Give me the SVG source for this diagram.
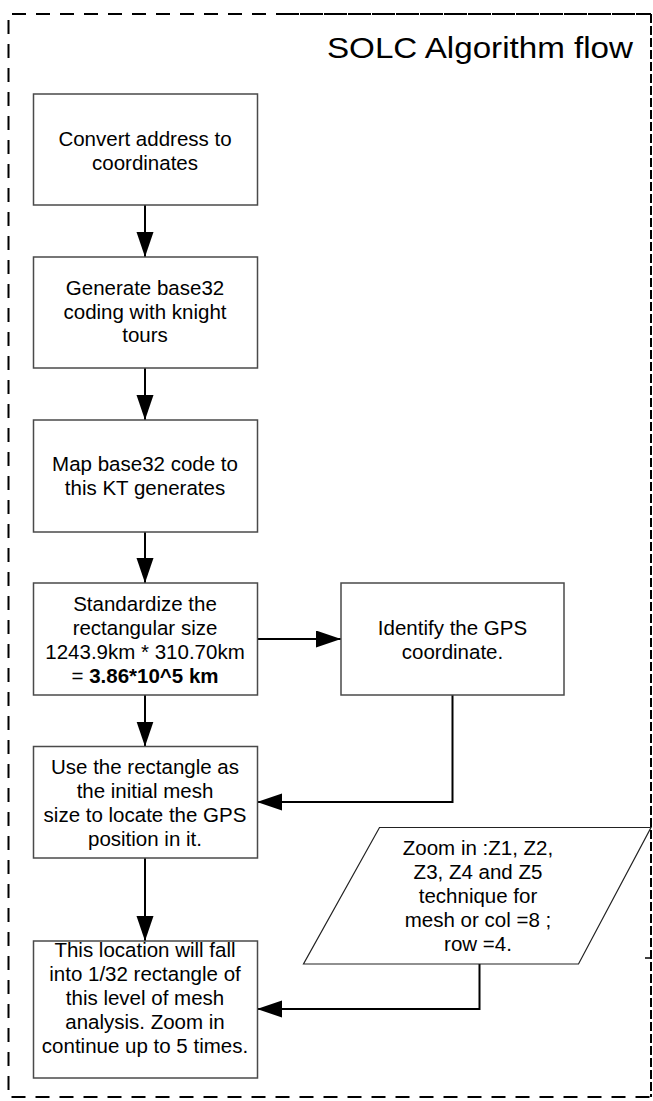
<svg xmlns="http://www.w3.org/2000/svg" width="653" height="1101" viewBox="0 0 653 1101">
  <style>
    .frame { fill: none; stroke: #000; stroke-width: 2; stroke-dasharray: 14 10; }
    .frame-dense { fill: none; stroke: #000; stroke-width: 2; stroke-dasharray: 9 3; }
    .box { fill: #fff; stroke: #4a4a4a; stroke-width: 1.5; }
    .io { fill: #fff; stroke: #222; stroke-width: 1.2; }
    .lbl { font-family: "Liberation Sans", Arial, sans-serif; font-size: 20.5px; fill: #000; text-anchor: middle; }
    .title { font-family: "Liberation Sans", Arial, sans-serif; font-size: 30px; fill: #000; }
    .wire { fill: none; stroke: #000; stroke-width: 2; marker-end: url(#head); }
  </style>
  <defs>
    <marker id="head" markerUnits="userSpaceOnUse" markerWidth="26" markerHeight="18" refX="25" refY="8.5" orient="auto">
      <path d="M0,0 L25,8.5 L0,17 z" fill="#000"/>
    </marker>
  </defs>

  <rect width="653" height="1101" fill="#fff"/>

  <!-- dashed frame around the whole flow -->
  <g id="frame">
    <path class="frame" d="M12,14 H651"/>
    <path class="frame" d="M8.5,20 V1097 H651"/>
    <path class="frame-dense" d="M290,14 H651"/>
    <path class="frame-dense" d="M651,14 V1097"/>
    <path d="M645,958 H651" stroke="#000" stroke-width="1.5"/>
    <text class="title" x="327" y="58" textLength="306" lengthAdjust="spacingAndGlyphs">SOLC Algorithm flow</text>
  </g>

  <!-- connectors -->
  <g id="connectors">
    <path class="wire" d="M145,205 V257"/>
    <path class="wire" d="M145,368 V420"/>
    <path class="wire" d="M145,532 V583"/>
    <path class="wire" d="M257,639 H341"/>
    <path class="wire" d="M145,695 V746.5"/>
    <path class="wire" d="M452.5,695 V802 H257"/>
    <path class="wire" d="M145,858 V941"/>
    <path class="wire" d="M479.5,964 V1009 H257"/>
  </g>

  <g id="convert">
    <rect class="box" x="33.5" y="94" width="224" height="111"/>
    <text class="lbl" x="145" y="146">Convert address to</text>
    <text class="lbl" x="145" y="170">coordinates</text>
  </g>

  <g id="generate">
    <rect class="box" x="33.5" y="257" width="224" height="111"/>
    <text class="lbl" x="145" y="295">Generate base32</text>
    <text class="lbl" x="145" y="318.5">coding with knight</text>
    <text class="lbl" x="145" y="342">tours</text>
  </g>

  <g id="map">
    <rect class="box" x="33.5" y="420" width="224" height="112"/>
    <text class="lbl" x="145" y="471">Map base32 code to</text>
    <text class="lbl" x="145" y="495">this KT generates</text>
  </g>

  <g id="standardize">
    <rect class="box" x="33.5" y="583" width="224" height="112"/>
    <text class="lbl" x="145" y="611">Standardize the</text>
    <text class="lbl" x="145" y="635">rectangular size</text>
    <text class="lbl" x="145" y="659">1243.9km * 310.70km</text>
    <text class="lbl" x="145" y="683">= <tspan font-weight="bold">3.86*10^5 km</tspan></text>
  </g>

  <g id="identify">
    <rect class="box" x="341" y="583" width="223" height="112"/>
    <text class="lbl" x="452.5" y="635">Identify the GPS</text>
    <text class="lbl" x="452.5" y="659">coordinate.</text>
  </g>

  <g id="initial-mesh">
    <rect class="box" x="33.5" y="746.5" width="224" height="111.5"/>
    <text class="lbl" x="145" y="774">Use the rectangle as</text>
    <text class="lbl" x="145" y="798">the initial mesh</text>
    <text class="lbl" x="145" y="822">size to locate the GPS</text>
    <text class="lbl" x="145" y="846">position in it.</text>
  </g>

  <g id="zoom-input">
    <polygon class="io" points="379.5,827.5 651,827.5 578.5,964 303.5,964"/>
    <text class="lbl" x="478" y="855">Zoom in :Z1, Z2,</text>
    <text class="lbl" x="478" y="879">Z3, Z4 and Z5</text>
    <text class="lbl" x="478" y="903">technique for</text>
    <text class="lbl" x="478" y="927">mesh or col =8 ;</text>
    <text class="lbl" x="478" y="951">row =4.</text>
  </g>

  <g id="zoom-levels">
    <rect class="box" x="33.5" y="941" width="224" height="137"/>
    <text class="lbl" x="145" y="957">This location will fall</text>
    <text class="lbl" x="145" y="981">into 1/32 rectangle of</text>
    <text class="lbl" x="145" y="1005">this level of mesh</text>
    <text class="lbl" x="145" y="1029">analysis. Zoom in</text>
    <text class="lbl" x="145" y="1053">continue up to 5 times.</text>
  </g>
</svg>
